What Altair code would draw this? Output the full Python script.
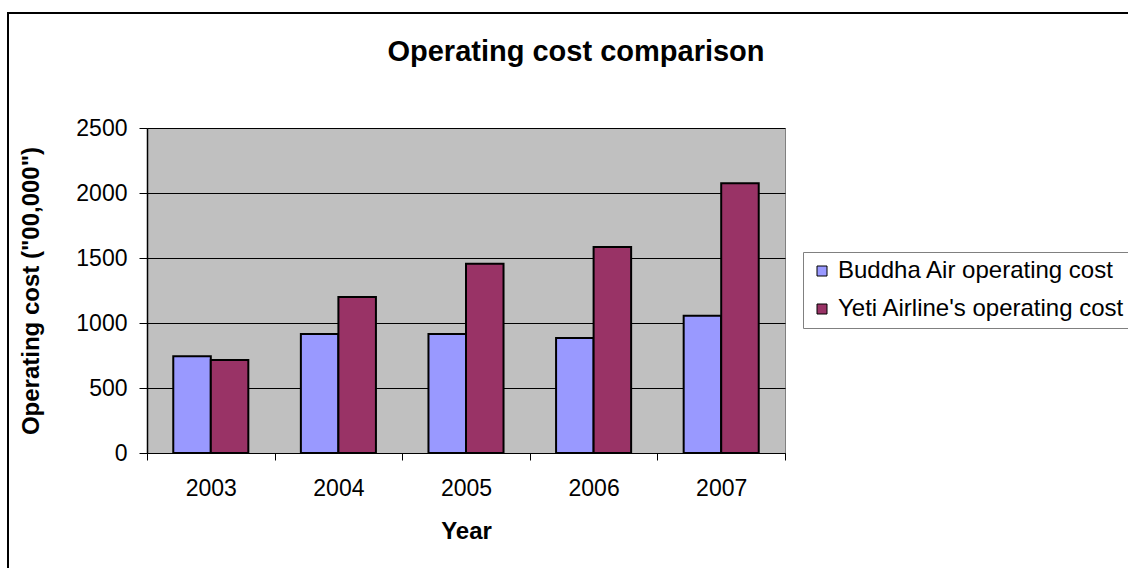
import altair as alt
import pandas as pd

years = ["2003", "2004", "2005", "2006", "2007"]
buddha = [745, 915, 915, 885, 1055]
yeti = [715, 1200, 1455, 1585, 2075]
series = ["Buddha Air operating cost", "Yeti Airline's operating cost"]
colors = ["#9999FF", "#993366"]
y_ticks = [0, 500, 1000, 1500, 2000, 2500]
title_text = "Operating cost comparison"

rows = []
for i, yr in enumerate(years):
    rows.append({"Year": yr, "Series": series[0], "Cost": buddha[i]})
    rows.append({"Year": yr, "Series": series[1], "Cost": yeti[i]})
df = pd.DataFrame(rows)

FONT = "Liberation Sans"
one = pd.DataFrame({"t": [title_text]})

border = alt.Chart(one).mark_rect(
    fill="white", fillOpacity=0, stroke="black", strokeWidth=2
).encode(
    x=alt.value(-139), x2=alt.value(1000), y=alt.value(-115), y2=alt.value(460)
)

title = alt.Chart(one).mark_text(
    font=FONT, fontSize=29, fontWeight="bold", color="black",
    align="center", baseline="middle"
).encode(text="t:N", x=alt.value(429), y=alt.value(-76))

bars = alt.Chart(df).mark_bar(stroke="black", strokeWidth=2).encode(
    x=alt.X(
        "Year:N", sort=years,
        scale=alt.Scale(paddingInner=0, paddingOuter=0),
        axis=alt.Axis(
            title="Year", labelAngle=0, tickBand="extent", ticks=True, tickSize=7,
            tickColor="black", domainColor="black", domainWidth=1,
            labelFontSize=23, labelPadding=17, labelFont=FONT, labelColor="black",
            titleFont=FONT, titleFontSize=24, titleFontWeight="bold", titleColor="black",
            titleBaseline="middle", titleY=78, grid=False,
        ),
    ),
    xOffset=alt.XOffset("Series:N", sort=series,
                        scale=alt.Scale(paddingInner=0, paddingOuter=0.70)),
    y=alt.Y(
        "Cost:Q", scale=alt.Scale(domain=[0, 2500], nice=False),
        axis=alt.Axis(
            values=y_ticks, format="d", title='Operating cost ("00,000")', grid=True,
            gridColor="black", gridWidth=1, tickSize=8, tickColor="black",
            domainColor="black", domainWidth=1.5,
            labelFontSize=23, labelPadding=12, labelFont=FONT, labelColor="black",
            titleFont=FONT, titleFontSize=24, titleFontWeight="bold", titleColor="black",
            titleX=-116, titleY=162.5, titleBaseline="middle", titleAngle=-90,
            titleAlign="center",
        ),
    ),
    color=alt.Color(
        "Series:N",
        scale=alt.Scale(domain=series, range=colors),
        legend=alt.Legend(
            title=None, orient="none", legendX=656, legendY=124,
            strokeColor="#808080", fillColor="white", padding=7,
            symbolType="square", symbolSize=100, symbolStrokeColor="black",
            symbolStrokeWidth=1, labelFontSize=24, labelFont=FONT, labelColor="black",
            labelLimit=0, rowPadding=14, labelOffset=4,
        ),
    ),
)

chart = alt.layer(border, title, bars).properties(
    width=638, height=325,
    padding={"left": 147, "top": 128, "right": 343, "bottom": 115},
    autosize=alt.AutoSizeParams(type="none"),
    background="white",
).configure_view(
    fill="#C0C0C0", stroke="#808080", strokeWidth=1
)

chart.save("out.html", embed_options={"renderer": "svg", "actions": False})
